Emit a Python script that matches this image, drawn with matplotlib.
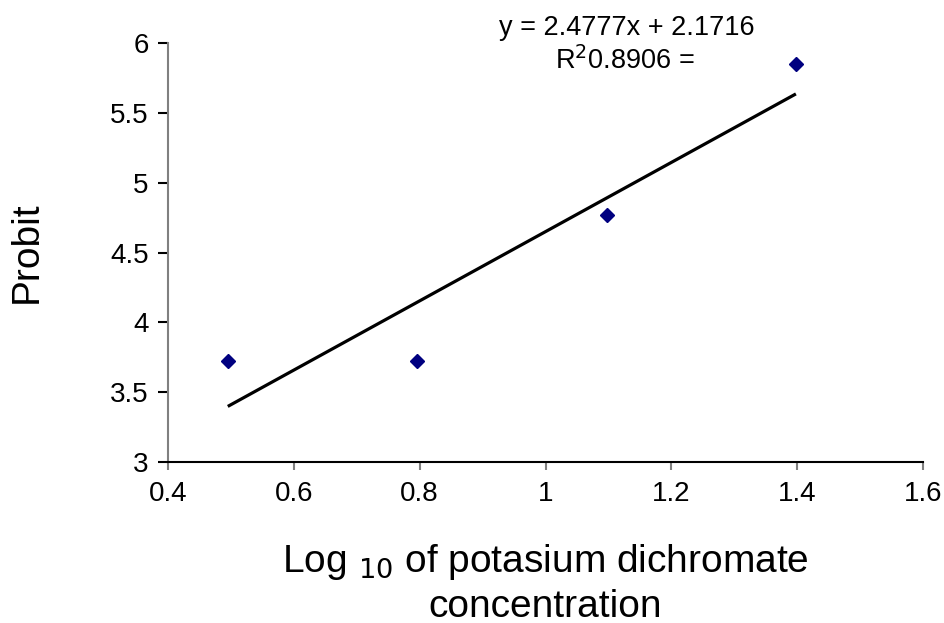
import numpy as np
import matplotlib
matplotlib.use("Agg")
import matplotlib.pyplot as plt

plt.rcParams['font.family'] = ['Liberation Sans', 'DejaVu Sans']

log_conc = [0.495, 0.796, 1.097, 1.398]
probit = [3.72, 3.72, 4.77, 5.85]
slope = 2.4777
intercept = 2.1716
r2 = 0.8906

xticks = [0.4, 0.6, 0.8, 1.0, 1.2, 1.4, 1.6]
xticklabels = ["0.4", "0.6", "0.8", "1", "1.2", "1.4", "1.6"]
yticks = [3, 3.5, 4, 4.5, 5, 5.5, 6]
yticklabels = ["3", "3.5", "4", "4.5", "5", "5.5", "6"]

fig = plt.figure(figsize=(9.45, 6.23), dpi=100)
ax = fig.add_axes([0.1778, 0.2584, 0.9767 - 0.1778, 0.931 - 0.2584])

xl = np.array([log_conc[0], log_conc[-1]])
ax.plot(xl, slope * xl + intercept, color='black', lw=2.3, solid_capstyle='butt', zorder=2)
ax.plot(log_conc, probit, linestyle='none', marker='D', markersize=7,
        color='#000080', zorder=3)

ax.set_xlim(0.4, 1.6)
ax.set_ylim(3, 6)
ax.set_xticks(xticks)
ax.set_xticklabels(xticklabels)
ax.set_yticks(yticks)
ax.set_yticklabels(yticklabels)

for s in ['top', 'right']:
    ax.spines[s].set_visible(False)
ax.spines['left'].set_color('#808080')
ax.spines['left'].set_linewidth(1.5)
ax.spines['bottom'].set_color('black')
ax.spines['bottom'].set_linewidth(1.5)
ax.tick_params(axis='x', direction='out', length=6, width=1.5,
               color='#808080', labelsize=20, pad=8)
ax.tick_params(axis='y', direction='out', length=7, width=1.5,
               color='black', labelsize=20, pad=7)

ax.set_ylabel("Probit", fontsize=28)
ax.yaxis.set_label_coords(-0.163, 0.5)
ax.set_xlabel("Log $_{10}$ of potasium dichromate\nconcentration", fontsize=28,
              linespacing=1.25)
ax.xaxis.set_label_coords(0.5, -0.19)

ax.text(0.608, 1.035, f"y = {slope}x + {intercept}", transform=ax.transAxes,
        ha='center', va='center', fontsize=19.5)
ax.text(0.605, 0.957, f"R$^2${r2} =", transform=ax.transAxes,
        ha='center', va='center', fontsize=19.5)

fig.savefig("out.png", dpi=100)
